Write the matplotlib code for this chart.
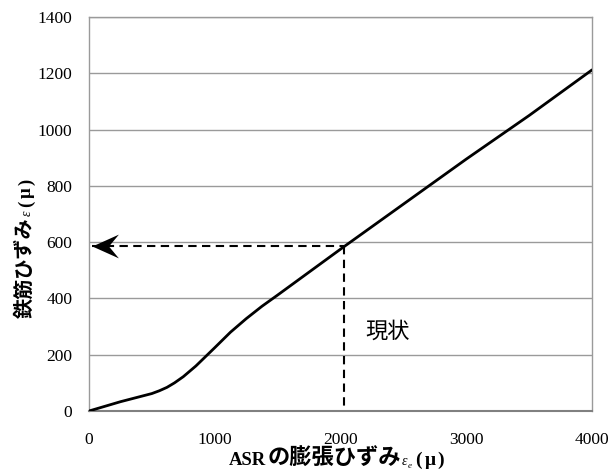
import matplotlib
matplotlib.use("Agg")
import matplotlib.pyplot as plt
from matplotlib.path import Path

# data
asr_strain = [0, 250, 500, 560, 620, 680, 750, 850, 1000, 1125, 1250, 1375, 1500, 2000, 2500, 3000, 3500, 4000]
rebar_strain = [0, 33, 62, 72, 84, 100, 122, 160, 225, 280, 328, 372, 412, 575, 735, 895, 1050, 1212]
current_x = 2030
current_y = 585
arrow_tip_x = 20
x_ticks = [0, 1000, 2000, 3000, 4000]
y_ticks = [0, 200, 400, 600, 800, 1000, 1200, 1400]
note_text = "現状"

W, H = 611, 474
fig = plt.figure(figsize=(W / 100, H / 100), dpi=100)
ax = fig.add_axes([89 / W, 1 - 411 / H, (592 - 89) / W, (411 - 17) / H])

ax.plot(asr_strain, rebar_strain, color='black', lw=2.0, solid_capstyle='round',
        solid_joinstyle='round', zorder=3)

dash = (0, (4, 2.6))
ax.plot([arrow_tip_x, current_x], [current_y, current_y], color='black', lw=1.5, linestyle=dash, zorder=2)
ax.plot([current_x, current_x], [current_y, 0], color='black', lw=1.5, linestyle=dash, zorder=2)

head = Path([(0, 0), (2, 0.9), (1.25, 0), (2, -0.9), (0, 0)],
            [Path.MOVETO, Path.LINETO, Path.LINETO, Path.LINETO, Path.CLOSEPOLY])
ax.plot([arrow_tip_x], [current_y], marker=head, markersize=38, color='black',
        markeredgewidth=0, linestyle='none', zorder=4, clip_on=False)

ax.text(2200, 285, note_text, family=['Noto Sans CJK JP', 'DejaVu Sans'], fontsize=16,
        va='center', ha='left')

ax.set_xlim(0, 4000)
ax.set_ylim(0, 1400)
ax.set_xticks(x_ticks)
ax.set_yticks(y_ticks)
ax.grid(axis='y', color='#9a9a9a', lw=1.0)
ax.set_axisbelow(True)
for s in ['top', 'right', 'left']:
    ax.spines[s].set_color('#9a9a9a')
    ax.spines[s].set_linewidth(1.0)
ax.spines['bottom'].set_color('#808080')
ax.spines['bottom'].set_linewidth(1.5)
ax.tick_params(length=0)
ax.tick_params(axis='x', pad=15)
ax.tick_params(axis='y', pad=12)
for lab in ax.get_xticklabels() + ax.get_yticklabels():
    lab.set_family('Liberation Serif')
    lab.set_fontsize(12.5)

# composite axis labels
serif_b = dict(family='Liberation Serif', weight='bold')
cjk_b = dict(family=['Noto Sans CJK JP', 'DejaVu Sans'], weight='bold')
serif_i = dict(family='Liberation Serif', style='italic')


def chain(pieces, x0, y0, rotation=0):
    renderer = fig.canvas.get_renderer()
    pos = 0.0
    for s, kw, off, gap in pieces:
        if rotation == 0:
            px, py = x0 + pos, y0 + off
        else:
            px, py = x0 + off, y0 - pos
        t = fig.text(px / W, 1 - py / H, s, rotation=rotation, rotation_mode='anchor',
                     ha='left', va='baseline', **kw)
        ext = t.get_window_extent(renderer)
        pos += (ext.width if rotation == 0 else ext.height) + gap


x_pieces = [
    ("ASR", dict(serif_b, fontsize=13.5), 0, 1),
    ("の膨張ひずみ", dict(cjk_b, fontsize=16), 0, 1),
    ("ε", dict(serif_i, fontsize=10), 0, 0),
    ("e", dict(serif_i, fontsize=6.5), 3, 4),
    ("(", dict(serif_b, fontsize=14), 0, 3),
    ("μ", dict(serif_b, fontsize=14), 0, 2),
    (")", dict(serif_b, fontsize=14), 0, 0),
]
chain(x_pieces, 229, 465)

y_pieces = [
    ("鉄筋ひずみ", dict(cjk_b, fontsize=14.5), 0, 1),
    ("ε", dict(serif_i, fontsize=10), 0, 4),
    ("(", dict(serif_b, fontsize=13.5), 0, 3),
    ("μ", dict(serif_b, fontsize=13.5), 0, 2),
    (")", dict(serif_b, fontsize=13.5), 0, 0),
]
chain(y_pieces, 31, 318, rotation=90)

fig.savefig('out.png', dpi=100)
